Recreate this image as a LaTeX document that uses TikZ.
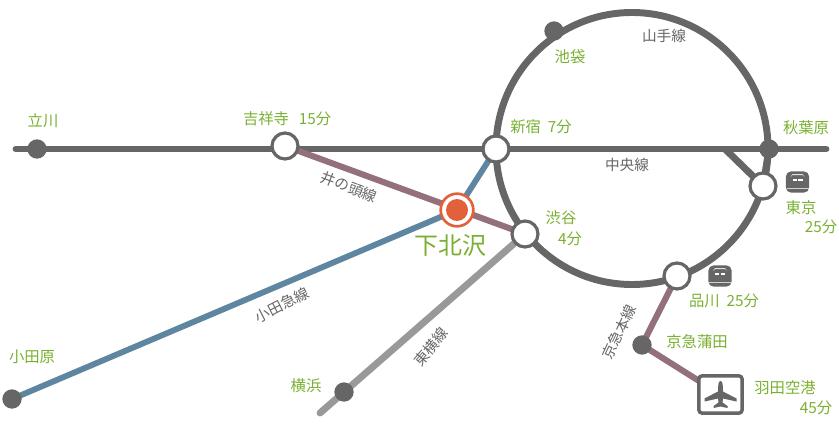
\documentclass[tikz,border=0pt]{standalone}
\usepackage{fontspec}
\usetikzlibrary{backgrounds}
\setmainfont{Noto Sans CJK JP}
\definecolor{linegray}{HTML}{666666}
\definecolor{toyokogray}{HTML}{999999}
\definecolor{odakyublue}{HTML}{5F86A0}
\definecolor{keikyubrown}{HTML}{94707A}
\definecolor{labelgreen}{HTML}{7AB031}
\definecolor{homered}{HTML}{E0613A}
\tikzset{
	track/.style = {line width=5.2pt},
	stop/.style = {circle, fill=linegray, inner sep=0pt, minimum size=14.5pt},
	hub/.style = {circle, draw=linegray, fill=white, line width=2.4pt, inner sep=0pt, minimum size=19.5pt},
	place/.style = {text=labelgreen, font=\fontsize{11.5pt}{13pt}\selectfont, inner sep=0pt, align=left},
	linename/.style = {text=linegray, font=\fontsize{11pt}{13pt}\selectfont, inner sep=0pt},
	trainicon/.style = {rounded corners=4pt, fill=linegray, draw=none, minimum width=17.5pt, minimum height=16pt, inner sep=0pt}
}
\begin{document}
\begin{tikzpicture}
	[
		x=0.75pt,
		y=-0.75pt
	]
	\useasboundingbox (0,0) rectangle (839,428);
	\node[circle, draw=linegray, line width=5.2pt, inner sep=0pt, minimum size=204pt] (yamanote) at (632,148.5) {};
	\coordinate (chuoW) at (16,149);
	\coordinate (chuoE) at (826,149);
	\coordinate (branch) at (725,149);
	\coordinate (toyokoEnd) at (320,413);
	\node[stop] (tachikawa) at (37,149) {};
	\node[stop] (akihabara) at (769,149) {};
	\node[stop] (ikebukuro) at (554,31) {};
	\node[stop] (yokohama) at (344,392) {};
	\node[stop] (kamata) at (642,345) {};
	\node[stop] (odawara) at (12,399) {};
	\node[hub] (kichijoji) at (285,146) {};
	\node[hub] (shinjuku) at (496,149) {};
	\node[hub] (shibuya) at (525,234) {};
	\node[hub] (tokyo) at (763,186) {};
	\node[hub] (shinagawa) at (677,276) {};
	\node[circle, draw=homered, fill=white, line width=2pt, inner sep=0pt, minimum size=24.5pt] (shimokita) at (457,210) {};
	\node[circle, fill=homered, inner sep=0pt, minimum size=16.5pt] (shimokitacore) at (457,210) {};
	% airport
	\node[rectangle, rounded corners=2.5pt, draw=linegray, fill=white, line width=2.6pt, inner sep=0pt, minimum width=32.5pt, minimum height=28pt] (haneda) at (720.5,394.5) {};
	\fill[linegray, shift={(haneda.center)}] (0,-13.5) .. controls (2,-13.5) and (2.5,-10) .. (2.5,-3)
		-- (16,4) -- (16,7) -- (2.5,4) -- (2,8) -- (7,11.5) -- (7,13.5) -- (0,12)
		-- (-7,13.5) -- (-7,11.5) -- (-2,8) -- (-2.5,4) -- (-16,7) -- (-16,4) -- (-2.5,-3)
		.. controls (-2.5,-10) and (-2,-13.5) .. (0,-13.5) -- cycle;
	% trains
	\node[trainicon] (traintokyo) at (797.5,182) {};
	\node[trainicon] (trainshinagawa) at (720,276) {};
	\foreach \icon in {traintokyo, trainshinagawa} {
		\begin{scope}[shift={(\icon.center)}]
			\fill[white!80!linegray] (-7,-5) -- (-5,-8) -- (5,-8) -- (7,-5) -- (5,-7) -- (-5,-7) -- cycle;
			\fill[white] (-5,-3) rectangle (-0.7,-1);
			\fill[white] (0.7,-3) rectangle (5,-1);
			\fill[white!70!linegray] (-11,5.5) rectangle (11,6.5);
		\end{scope}
	}
	% connectors
	\begin{pgfonlayer}{background}
		\draw[track, linegray, line cap=round] (chuoW) -- (chuoE);
		\draw[track, linegray] (branch) -- (tokyo.center);
		\draw[track, linegray] (akihabara.center) -- (tokyo.center);
		\draw[track, toyokogray, line cap=round] (toyokoEnd) -- (shibuya.center);
		\draw[track, odakyublue, line width=4.4pt] (odawara.center) -- (shimokita.center) -- (shinjuku.center);
		\draw[track, keikyubrown, line width=4.6pt] (kichijoji.center) -- (shibuya.center);
		\draw[track, keikyubrown, line width=4.6pt] (shinagawa.center) -- (kamata.center) -- (haneda.center);
	\end{pgfonlayer}
	% places
	\node[place] (ltachikawa) at (43,121) {立川};
	\node[place] (lkichijoji) at (266,119) {吉祥寺};
	\node[place] (lkichijojit) at (315,119) {15分};
	\node[place] (lshinjuku) at (541,127) {新宿\ \ 7分};
	\node[place] (lakihabara) at (806,128) {秋葉原};
	\node[place] (likebukuro) at (570,57) {池袋};
	\node[place] (lshibuya) at (561,218) {渋谷};
	\node[place] (lshibuyat) at (570,239) {4分};
	\node[place] (ltokyo) at (801,208) {東京};
	\node[place] (ltokyot) at (821,227) {25分};
	\node[place] (lshinagawa) at (724,301) {品川\ \ 25分};
	\node[place] (lkamata) at (697,342) {京急蒲田};
	\node[place] (lhaneda) at (785,388) {羽田空港};
	\node[place] (lhanedat) at (816,408) {45分};
	\node[place] (lodawara) at (32,357) {小田原};
	\node[place] (lyokohama) at (306,386) {横浜};
	\node[place, font=\fontsize{18pt}{20pt}\selectfont] (lshimokita) at (450,246) {下北沢};
	% line names
	\node[linename] (nyamanote) at (664,36) {山手線};
	\node[linename] (nchuo) at (627,165) {中央線};
	\node[linename, rotate=-21] (ninokashira) at (349,187) {井の頭線};
	\node[linename, rotate=27] (nodakyu) at (282,305) {小田急線};
	\node[linename, rotate=50] (ntoyoko) at (431,347) {東横線};
	\node[linename, rotate=65] (nkeikyu) at (619,332) {京急本線};
\end{tikzpicture}
\end{document}
